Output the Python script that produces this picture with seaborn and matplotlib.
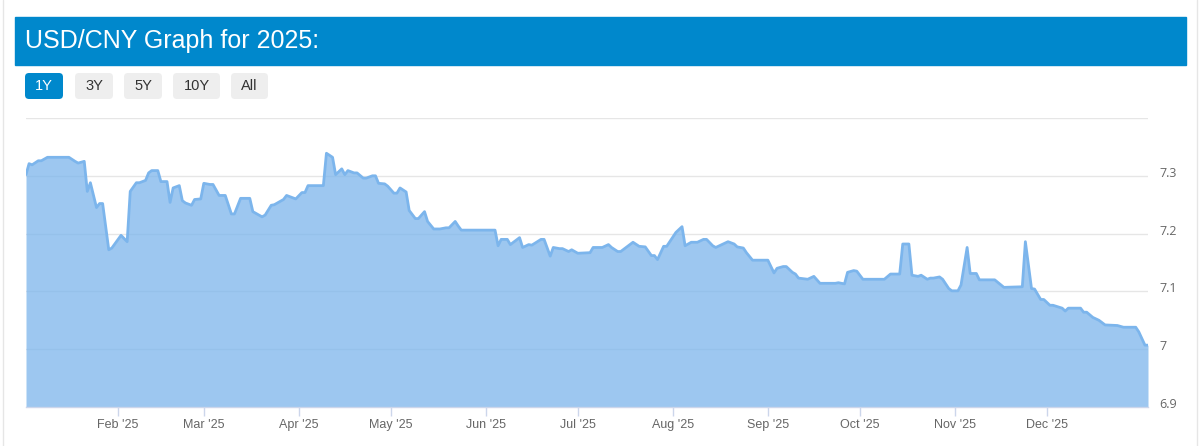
import numpy as np
import pandas as pd
import matplotlib
matplotlib.use("Agg")
import matplotlib.pyplot as plt
import matplotlib.dates as mdates
from matplotlib.patches import Rectangle, FancyBboxPatch
from matplotlib.lines import Line2D
from matplotlib.transforms import IdentityTransform, ScaledTranslation
import seaborn as sns

# day of year 2025 (0 = Jan 1) and USD/CNY rate
days = [1, 2, 3, 5, 6, 8, 15, 17, 18, 20, 21, 22, 24, 25, 26, 28, 29, 32, 34, 35,
        37, 38, 40, 41, 42, 44, 45, 47, 48, 49, 51, 52, 53, 55, 56, 58, 59, 61, 62, 64,
        66, 68, 69, 71, 74, 75, 78, 79, 81, 82, 85, 86, 89, 91, 92, 93,
        98, 99, 101, 102, 104, 105, 106, 108, 109, 111, 112, 114, 115, 116, 118, 119, 121, 122, 123, 125,
        126, 128, 129, 131, 132, 134, 136, 138, 139, 141, 142, 143, 154, 155, 156, 158, 159, 162, 163, 165,
        166, 169, 170, 172, 173, 175, 176, 178, 179, 181, 185,
        186, 189, 191, 192, 194, 195, 199, 201, 203, 205, 206, 207, 209, 210, 212, 213, 215, 216, 218, 220,
        222, 223, 225, 226, 228, 230, 232, 233, 235, 236, 238, 243, 245, 246, 248, 249, 251, 252, 253, 256,
        258, 260, 265, 266, 268, 269, 271, 272, 274, 276,
        281, 283, 286, 287, 289, 290, 292, 293, 295, 296, 297, 299, 300, 302, 303, 305, 306, 308, 309, 311,
        312, 317, 320, 326, 327, 329, 330, 332, 333, 335, 336, 339, 340, 341, 345, 346, 347, 349, 351, 353,
        357, 359, 363, 364, 366, 367]
rates = [7.302, 7.321, 7.319, 7.326, 7.326, 7.332, 7.332, 7.325, 7.322, 7.325,
         7.273, 7.288, 7.245, 7.252, 7.252, 7.172, 7.175, 7.197, 7.186, 7.273,
         7.288, 7.288, 7.292, 7.305, 7.309, 7.309, 7.290, 7.290, 7.254, 7.279,
         7.283, 7.257, 7.253, 7.249, 7.259, 7.260, 7.287, 7.285, 7.285, 7.266,
         7.266, 7.234, 7.234, 7.261, 7.261, 7.238, 7.229, 7.232, 7.249, 7.250,
         7.259, 7.266, 7.260, 7.271, 7.271, 7.283,
         7.283, 7.339, 7.332, 7.302, 7.312, 7.302, 7.309, 7.305, 7.305, 7.296,
         7.296, 7.300, 7.300, 7.287, 7.286, 7.282, 7.270, 7.270, 7.279, 7.272,
         7.240, 7.226, 7.226, 7.238, 7.221, 7.208, 7.208, 7.210, 7.210, 7.221,
         7.213, 7.206, 7.206, 7.179, 7.190, 7.190, 7.181, 7.193, 7.176, 7.181,
         7.180, 7.190, 7.190, 7.161, 7.176, 7.174, 7.174, 7.169, 7.172, 7.166, 7.167,
         7.176, 7.176, 7.181, 7.176, 7.169, 7.169, 7.185, 7.178, 7.177, 7.162,
         7.162, 7.155, 7.178, 7.178, 7.194, 7.202, 7.212, 7.179, 7.185, 7.185,
         7.190, 7.190, 7.179, 7.176, 7.181, 7.186, 7.182, 7.177, 7.175, 7.167,
         7.154, 7.154, 7.132, 7.140, 7.143, 7.143, 7.133, 7.130, 7.123, 7.121,
         7.126, 7.114, 7.114, 7.115, 7.113, 7.133, 7.136, 7.135, 7.121, 7.121,
         7.121, 7.130, 7.130, 7.182, 7.182, 7.128, 7.126, 7.128, 7.121, 7.123,
         7.123, 7.125, 7.121, 7.105, 7.101, 7.101, 7.111, 7.176, 7.131, 7.131,
         7.120, 7.120, 7.107, 7.108, 7.186, 7.105, 7.104, 7.086, 7.086, 7.076,
         7.076, 7.071, 7.066, 7.071, 7.071, 7.064, 7.064, 7.055, 7.050, 7.042,
         7.041, 7.038, 7.038, 7.030, 7.007, 7.007]

y_ticks = [6.9, 7.0, 7.1, 7.2, 7.3, 7.4]
y_labels = ["6.9", "7", "7.1", "7.2", "7.3", ""]
buttons = ["1Y", "3Y", "5Y", "10Y", "All"]
title = "USD/CNY Graph for 2025:"

dates = pd.Timestamp("2025-01-01") + pd.to_timedelta(days, unit="D")
df = pd.DataFrame({"date": dates, "rate": rates})

sns.set_style("white")
plt.rcParams["font.family"] = ["Liberation Sans", "DejaVu Sans"]

blue = "#0088cc"
line_c = "#7cb5ec"

fig = plt.figure(figsize=(12, 4.46), dpi=100)
ax = fig.add_axes([26 / 1200, 39 / 446, 1122 / 1200, 289 / 446])

ax.fill_between(df["date"], df["rate"], 6.9, color=line_c, alpha=0.75, lw=0, zorder=2)
sns.lineplot(data=df, x="date", y="rate", ax=ax, color=line_c, lw=2, zorder=3)

ax.set_xlim(df["date"].iloc[0], df["date"].iloc[-1])
ax.set_ylim(6.9, 7.4)
ax.set_xlabel("")
ax.set_ylabel("")

# y axis on the right, no 7.4 label, labels sit a bit above the grid lines
ax.yaxis.tick_right()
ax.set_yticks(y_ticks)
ax.set_yticklabels(y_labels)
ax.tick_params(axis="y", length=0, pad=8, labelsize=9, labelcolor="#666666")
shift = ScaledTranslation(0, 4 / 100, fig.dpi_scale_trans)
for lab in ax.get_yticklabels():
    lab.set_family(["Open Sans", "DejaVu Sans"])
    lab.set_transform(lab.get_transform() + shift)
ax.grid(axis="y", color="#e6e6e6", lw=1)
ax.set_axisbelow(True)

# month ticks
ax.xaxis.set_major_locator(mdates.MonthLocator(bymonth=range(2, 13)))
ax.xaxis.set_major_formatter(mdates.DateFormatter("%b '%y"))
ax.tick_params(axis="x", length=6.5, width=1, color="#ccd6eb", pad=2,
               labelsize=9, labelcolor="#666666", bottom=True)

for s in ["top", "left", "right"]:
    ax.spines[s].set_visible(False)
ax.spines["bottom"].set_color("#ccd6eb")
ax.spines["bottom"].set_linewidth(1)

# header bar
fig.patches.append(Rectangle((15 / 1200, 381 / 446), 1171 / 1200, 48 / 446,
                             transform=fig.transFigure, color=blue, zorder=0))
fig.text(25 / 1200, 405 / 446, title, color="white", fontsize=18,
         va="center", ha="left")

# range buttons
btn_x = [(25, 63), (75, 113), (124, 162), (173, 220), (231, 268)]
for i, (lbl, (x0, x1)) in enumerate(zip(buttons, btn_x)):
    active = i == 0
    fig.patches.append(FancyBboxPatch((x0, 347), x1 - x0, 26,
                                      boxstyle="round,pad=0,rounding_size=4",
                                      transform=IdentityTransform(),
                                      fc=blue if active else "#eeeeee", ec="none"))
    fig.text((x0 + x1) / 2 / 1200, 360 / 446, lbl, ha="center", va="center",
             fontsize=10.5, color="white" if active else "#333333")

# page borders
fig.add_artist(Line2D([3 / 1200, 3 / 1200], [0, 1], color="#e6e6e6", lw=1))
fig.add_artist(Line2D([1197 / 1200, 1197 / 1200], [0, 1], color="#e6e6e6", lw=1))

fig.savefig("out.png", dpi=100)
